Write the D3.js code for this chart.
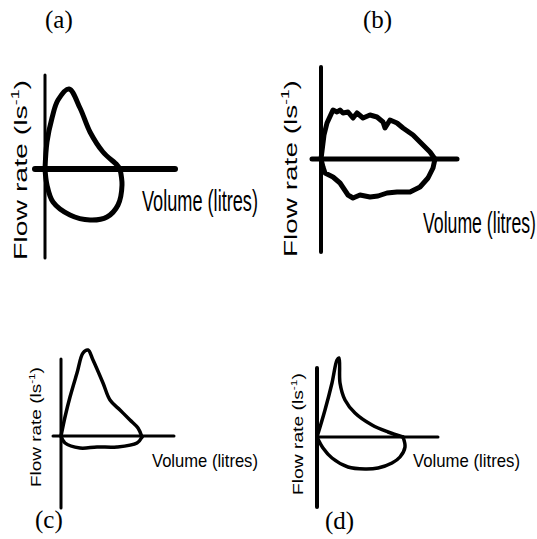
<!DOCTYPE html>
<html>
<head>
<meta charset="utf-8">
<script src="https://cdn.jsdelivr.net/npm/d3@7"></script>
<style>
  html, body { margin: 0; padding: 0; background: #fff; }
  svg { display: block; }
</style>
</head>
<body>
<svg id="chart" width="537" height="539"></svg>
<script>
// Flow-volume loops: volume in litres, flow in l/s (expiration positive).
const panelNames = ["(a)", "(b)", "(c)", "(d)"];
const volumeTitle = "Volume (litres)";
const flowTitle = ["Flow rate (ls", "-1", ")"];

// (a) normal loop
const expiryA = [[0,0],[0.1,2.7],[0.35,5.1],[0.65,6.9],[1.2,8.0],[1.75,6.1],[2.25,3.7],[2.9,1.7],[3.6,0.4],[3.75,0]];
const inspiryA = [[3.75,0],[3.85,-1.6],[3.65,-3.6],[3.1,-4.8],[2.25,-5.1],[1.25,-4.6],[0.4,-3.3],[0.1,-1.6],[0,0]];

// (b) fixed upper airway obstruction
const expiryB = [[0,0],[0.15,2.4],[0.3,3.6],[0.6,4.9],[0.8,4.7],[0.95,4.9],[1.1,4.6],[1.35,4.7],[1.6,4.1],[1.8,4.6],[2.1,4.1],[2.45,4.4],[2.8,4.2],[3.1,3.7],[3.2,3.1],[3.45,3.9],[3.8,3.6],[4.1,3.1],[4.6,2.4],[5.1,1.4],[5.45,0.7],[5.7,0]];
const inspiryB = [[5.7,0],[5.6,-0.9],[5.35,-1.9],[4.95,-2.8],[4.45,-3.3],[3.8,-3.3],[3.3,-3.4],[2.85,-3.7],[2.45,-3.8],[1.95,-3.6],[1.6,-3.9],[1.35,-3.6],[0.95,-2.4],[0.6,-1.8],[0.2,-1.4],[0.1,-0.8],[0,0]];

// (c)
const expiryC = [[0,0],[0.2,1.9],[0.45,3.9],[0.8,6.3],[1.1,8.3],[1.35,8.6],[1.6,7.6],[2.1,5.3],[2.45,3.6],[2.95,2.6],[3.45,1.6],[3.85,0.8],[4.05,-0.1]];
const inspiryC = [[4.05,-0.1],[3.8,-0.7],[2.8,-1.1],[1.8,-1.1],[0.95,-1.2],[0.2,-0.7],[0,0]];

// (d)
const expiryD = [[0,0],[0.4,2.7],[0.75,5.4],[1.0,7.7],[1.1,7.9],[1.15,5.4],[1.4,3.7],[1.9,2.4],[2.75,1.2],[3.55,0.5],[4.3,0]];
const inspiryD = [[4.3,0],[4.4,-1.0],[4.15,-2.0],[3.75,-2.6],[3.05,-3.1],[2.4,-3.2],[1.55,-3.0],[0.75,-2.1],[0.3,-1.1],[0,0]];

const loops = [[expiryA, inspiryA], [expiryB, inspiryB], [expiryC, inspiryC], [expiryD, inspiryD]];

// Axis extents (data units) for each panel
const volumeDomains = [[-0.5, 6.5], [-0.45, 6.8], [-0.4, 5.65], [0, 6.05]];
const flowDomains = [[-8.9, 9.4], [-9.3, 9.2], [-7.2, 7.7], [-7.0, 6.9]];

// Panel geometry and styling
const PX_PER_L = 20, PX_PER_LPS = 10;
const layout = [
  { ox: 45,  oy: 169, vAxisW: 3, hAxisW: 6, loopW: 5, curve: d3.curveCatmullRom.alpha(0.5),
    flow: { x: 27, y: 260, len: 180, size: 19 }, vol: { x: 142, y: 211, len: 116, size: 30 }, tag: { x: 45, y: 28 } },
  { ox: 321, oy: 159, vAxisW: 4, hAxisW: 5, loopW: 5, curve: d3.curveLinear,
    flow: { x: 297, y: 257, len: 177, size: 19 }, vol: { x: 423, y: 233, len: 113, size: 30 }, tag: { x: 363, y: 28 } },
  { ox: 61,  oy: 436, vAxisW: 3, hAxisW: 3, loopW: 3.5, curve: d3.curveCatmullRom.alpha(0.5),
    flow: { x: 41, y: 487, len: 120, size: 15 }, vol: { x: 152, y: 467, len: 106, size: 18 }, tag: { x: 35, y: 528 } },
  { ox: 317, oy: 437, vAxisW: 4, hAxisW: 3, loopW: 3.5, curve: d3.curveCatmullRom.alpha(0.5),
    flow: { x: 303, y: 495, len: 122, size: 15 }, vol: { x: 413, y: 467, len: 107, size: 18 }, tag: { x: 325, y: 529 } }
];

const svg = d3.select("#chart");
const sans = "'Liberation Sans', Arial, Helvetica, sans-serif";
const serif = "'Liberation Serif', 'Times New Roman', Times, serif";

// Stretch or squeeze a text node along its run so it spans `len` pixels.
function fitText(sel, x, y, len, rotate) {
  const natural = sel.node().getComputedTextLength();
  const k = len / natural;
  sel.attr("transform", `translate(${x},${y})` + (rotate ? " rotate(-90)" : "") + ` scale(${k},1)`);
}

layout.forEach((L, i) => {
  const vd = volumeDomains[i], fd = flowDomains[i];
  const x = d3.scaleLinear().domain(vd).range([L.ox + vd[0] * PX_PER_L, L.ox + vd[1] * PX_PER_L]);
  const y = d3.scaleLinear().domain(fd).range([L.oy - fd[0] * PX_PER_LPS, L.oy - fd[1] * PX_PER_LPS]);
  const g = svg.append("g").attr("class", "panel");

  // axes
  g.append("line")
    .attr("x1", x(0)).attr("x2", x(0)).attr("y1", y(fd[0])).attr("y2", y(fd[1]))
    .attr("stroke", "#000").attr("stroke-width", L.vAxisW).attr("stroke-linecap", "round");
  g.append("line")
    .attr("x1", x(vd[0])).attr("x2", x(vd[1])).attr("y1", y(0)).attr("y2", y(0))
    .attr("stroke", "#000").attr("stroke-width", L.hAxisW).attr("stroke-linecap", "round");

  // loop
  const line = d3.line().x(d => x(d[0])).y(d => y(d[1])).curve(L.curve);
  loops[i].forEach(seg => {
    g.append("path").attr("d", line(seg))
      .attr("fill", "none").attr("stroke", "#000").attr("stroke-width", L.loopW)
      .attr("stroke-linejoin", "round").attr("stroke-linecap", "round");
  });

  // flow axis title (rotated)
  const ft = g.append("text").attr("font-family", sans).attr("font-size", L.flow.size).attr("fill", "#000");
  ft.append("tspan").text(flowTitle[0]);
  ft.append("tspan").attr("font-size", L.flow.size * 0.62).attr("dy", -L.flow.size * 0.42).text(flowTitle[1]);
  ft.append("tspan").attr("dy", L.flow.size * 0.42).text(flowTitle[2]);
  fitText(ft, L.flow.x, L.flow.y, L.flow.len, true);

  // volume axis title
  const vt = g.append("text").attr("font-family", sans).attr("font-size", L.vol.size).attr("fill", "#000").text(volumeTitle);
  fitText(vt, L.vol.x, L.vol.y, L.vol.len, false);

  // panel tag
  g.append("text").attr("x", L.tag.x).attr("y", L.tag.y)
    .attr("font-family", serif).attr("font-size", 25).attr("fill", "#000").text(panelNames[i]);
});
</script>
</body>
</html>
